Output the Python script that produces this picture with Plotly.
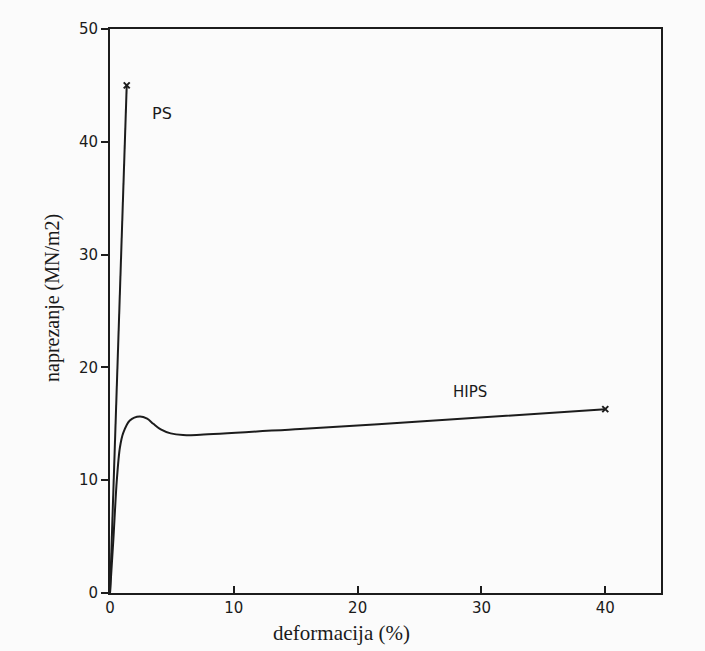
import plotly.graph_objects as go

# HIPS stress-strain curve (deformation %, stress MN/m2)
hips_x = [0, 0.27, 0.55, 0.8, 1.07, 1.6, 2.4, 3.0, 3.5, 4.1, 4.9, 5.9, 7.3, 15.35, 25.0, 40.0]
hips_y = [0, 4.7, 10.0, 12.9, 14.2, 15.3, 15.65, 15.45, 15.0, 14.5, 14.15, 14.0, 14.03, 14.55, 15.2, 16.3]

# PS stress-strain curve
ps_x = [0, 1.35]
ps_y = [0, 45.0]

x_ticks = [0, 10, 20, 30, 40]
y_ticks = [0, 10, 20, 30, 40, 50]

line_col = "#1c1c1c"
tick_font = dict(family="DejaVu Sans", size=15, color="#1a1a1a")
serif = dict(family="Liberation Serif", size=20, color="#1a1a1a")

fig = go.Figure()
fig.add_trace(go.Scatter(x=hips_x, y=hips_y, mode="lines",
                         line=dict(color=line_col, width=2, shape="spline", smoothing=0.9),
                         showlegend=False, hoverinfo="skip"))
fig.add_trace(go.Scatter(x=ps_x, y=ps_y, mode="lines",
                         line=dict(color=line_col, width=2),
                         showlegend=False, hoverinfo="skip"))
fig.add_trace(go.Scatter(x=[ps_x[-1], hips_x[-1]], y=[ps_y[-1], hips_y[-1]], mode="markers",
                         marker=dict(symbol="x-thin", size=6, line=dict(color=line_col, width=2)),
                         showlegend=False, hoverinfo="skip"))

fig.add_annotation(x=4.17, y=42.5, text="PS", showarrow=False,
                   font=dict(family="DejaVu Sans", size=16, color="#1a1a1a"))
fig.add_annotation(x=29.1, y=17.8, text="HIPS", showarrow=False,
                   font=dict(family="DejaVu Sans", size=15, color="#1a1a1a"))

# axis titles placed as annotations (paper coords)
fig.add_annotation(xref="paper", yref="paper", x=(341 - 110) / 551, y=-(633 - 593) / 564,
                   text="deformacija (%)", showarrow=False, font=dict(family="Liberation Serif", size=21, color="#1a1a1a"),
                   xanchor="center", yanchor="middle")
fig.add_annotation(xref="paper", yref="paper", x=-(110 - 52) / 551, y=(593 - 298) / 564,
                   text="naprezanje (MN/m2)", showarrow=False, textangle=-90, font=serif,
                   xanchor="center", yanchor="middle")

fig.update_layout(
    width=705, height=651,
    margin=dict(l=110, r=44, t=29, b=58),
    paper_bgcolor="#fbfbfb", plot_bgcolor="#fbfbfb",
    xaxis=dict(range=[0, 44.5], tickvals=x_ticks, ticks="inside", ticklen=7, tickwidth=2,
               tickcolor=line_col, showgrid=False, zeroline=False, showline=True, mirror=True,
               linecolor=line_col, linewidth=2, tickfont=tick_font),
    yaxis=dict(range=[0, 50], tickvals=y_ticks, ticks="outside", ticklen=7, tickwidth=2,
               tickcolor=line_col, showgrid=False, zeroline=False, showline=True, mirror=True,
               linecolor=line_col, linewidth=2, tickfont=tick_font),
)

fig.write_html("out.html")
